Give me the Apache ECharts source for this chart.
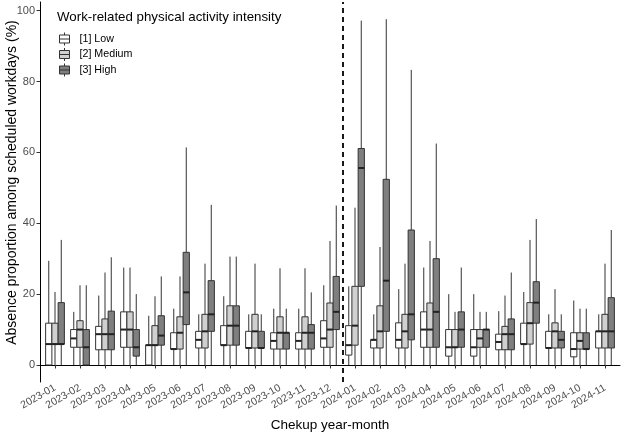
<!DOCTYPE html>
<html><head><meta charset="utf-8">
<script src="https://cdn.jsdelivr.net/npm/echarts@6/dist/echarts.min.js"></script>
<style>html,body{margin:0;padding:0;background:#fff}#c{width:622px;height:433px}</style>
</head><body><div id="c"></div>
<script>
// Categories (check-up year-month)
const categories = ['2023-01','2023-02','2023-03','2023-04','2023-05','2023-06','2023-07','2023-08','2023-09','2023-10','2023-11','2023-12',
  '2024-01','2024-02','2024-03','2024-04','2024-05','2024-06','2024-07','2024-08','2024-09','2024-10','2024-11'];
const groupNames = ['[1] Low', '[2] Medium', '[3] High'];
// Box statistics: [min, Q1, median, Q3, max] (%)
const lowStats = [
  [0,0,5.9,11.8,29.4],[0,5,7.5,10,15],[0,4.3,8.7,10.9,19.6],[0,5,10,15,27.5],[0,0,5.6,5.6,13.9],[0,4.5,4.5,9.1,15.9],
  [0,4.8,7.1,9.5,14.3],[0,5.6,5.6,11.1,19.4],[0,4.8,4.8,9.5,14.3],[0,4.5,6.8,9.1,15.9],[0,4.5,6.8,9.1,15.9],[0,5,7.5,12.5,22.5],
  [0,2.8,5.6,11.1,22.2],[0,4.8,7.1,7.1,14.3],[0,4.8,7.1,11.9,21.4],[0,5,10,15,27.5],[0,2.5,5,10,20],[0,2.5,5,10,20],
  [0,4.3,6.5,8.7,15.2],[0,5.9,5.9,11.8,20.6],[0,4.8,4.8,9.5,14.3],[0,2.3,4.5,9.1,18.2],[0,4.8,9.5,9.5,14.3]
];
const mediumStats = [
  [0,5.9,5.9,11.8,20.6],[0,5,10,12.5,22.5],[0,4.3,8.7,13,26.1],[0,5,10,15,27.5],[0,5.6,5.6,11.1,19.4],[0,4.5,9.1,13.6,25],
  [0,4.8,9.5,14.3,28.6],[0,5.6,11.1,16.7,30.6],[0,4.8,9.5,14.3,28.6],[0,4.5,9.1,13.6,27.3],[0,4.5,9.1,13.6,27.3],[0,5,10,17.5,35],
  [0,5.6,11.1,22.2,44.4],[0,4.8,9.5,16.7,33.3],[0,4.8,9.5,14.3,28.6],[0,5,10,17.5,35],[0,5,5,10,15],[0,5,7.5,10,15],
  [0,4.3,8.7,10.9,19.6],[0,5.9,11.8,17.6,35.3],[0,4.8,9.5,11.9,21.4],[0,4.5,6.8,9.1,15.9],[0,4.8,9.5,14.3,28.6]
];
const highStats = [
  [0,5.9,5.9,17.6,35.3],[0,0,5,10,22.5],[0,4.3,8.7,15.2,30.4],[0,2.5,5,10,20],[0,5.6,8.3,13.9,25],[0,11.4,20.5,31.8,61.4],
  [0,9.5,14.3,23.8,45.2],[0,5.6,11.1,16.7,30.6],[0,4.8,4.8,9.5,14.3],[0,4.5,9.1,9.1,15.9],[0,4.5,9.1,11.4,20.5],[0,10,15,25,45],
  [0,22.2,55.6,61.1,97.2],[0,9.5,23.8,52.4,97.6],[0,7.1,14.3,38.1,83.3],[0,5,15,30,62.5],[0,5,10,15,27.5],[0,5,10,10,15],
  [0,4.3,8.7,13,26.1],[0,11.8,17.6,23.5,41.2],[0,4.8,7.1,9.5,14.3],[0,4.5,4.5,9.1,15.9],[0,4.8,9.5,19,38.1]
];
const yTicks = [0, 20, 40, 60, 80, 100];
const splitCategory = '2024-01';

const fills = ['#FFFFFF', '#D0D0D0', '#7F7F7F'];
const offsets = [-0.25, 0, 0.25];
const dividerX = categories.indexOf(splitCategory) + 0.5; // between 2023-12 and 2024-01 (1-based positions)
const FONT = 'Liberation Sans, Arial, Helvetica, sans-serif';

function toData(stats) { return stats.map((s, i) => [i + 1].concat(s)); }

function boxRender(offset, fill) {
  return function (params, api) {
    const x = api.value(0);
    const cx = api.coord([x + offset, 0])[0];
    const w = api.size([0.25, 0])[0];
    const yMin = api.coord([x, api.value(1)])[1];
    const yQ1 = api.coord([x, api.value(2)])[1];
    const yMed = api.coord([x, api.value(3)])[1];
    const yQ3 = api.coord([x, api.value(4)])[1];
    const yMax = api.coord([x, api.value(5)])[1];
    return {
      type: 'group',
      children: [
        { type: 'line', shape: { x1: cx, y1: yMin, x2: cx, y2: yMax }, style: { stroke: '#333', lineWidth: 1 } },
        { type: 'rect', shape: { x: cx - w / 2, y: yQ3, width: w, height: yQ1 - yQ3 }, style: { fill: fill, stroke: '#333', lineWidth: 1 } },
        { type: 'line', shape: { x1: cx - w / 2, y1: yMed, x2: cx + w / 2, y2: yMed }, style: { stroke: '#222', lineWidth: 2 } }
      ]
    };
  };
}

const allStats = [lowStats, mediumStats, highStats];
const series = allStats.map((stats, k) => ({
  type: 'custom',
  name: groupNames[k],
  renderItem: boxRender(offsets[k], fills[k]),
  itemStyle: { color: fills[k], borderColor: '#333', borderWidth: 1 },
  encode: { x: 0, y: [1, 2, 3, 4, 5] },
  data: toData(stats),
  silent: true,
  z: 2
}));
series[0].markLine = {
  symbol: 'none', silent: true, label: { show: false },
  lineStyle: { type: [5, 4], color: '#000', width: 1.8 },
  data: [{ xAxis: dividerX }]
};

const chart = echarts.init(document.getElementById('c'), null, { renderer: 'canvas' });
chart.setOption({
  animation: false,
  backgroundColor: '#fff',
  title: {
    text: 'Work-related physical activity intensity',
    left: 57, top: 11, padding: 0,
    textStyle: { fontSize: 13.3, fontWeight: 'normal', color: '#000', fontFamily: FONT }
  },
  legend: {
    orient: 'vertical', left: 59, top: 32, padding: 0,
    itemWidth: 10, itemHeight: 13, itemGap: 1.5,
    selectedMode: false,
    icon: 'path://M5,0V2.5M0,2.5H10V10.5H0ZM0,6.5H10M5,10.5V13',
    textStyle: { fontSize: 10.7, color: '#000', fontFamily: FONT, padding: [0, 0, 0, 5] },
    data: groupNames.map((n, k) => ({ name: n, itemStyle: { color: fills[k], borderColor: '#333', borderWidth: 1 } }))
  },
  grid: { left: 40, right: 2, top: 2, bottom: 51, containLabel: false, outerBoundsMode: 'none' },
  xAxis: {
    type: 'value', min: 0.4, max: categories.length + 0.6,
    splitLine: { show: false },
    axisLine: { show: true, lineStyle: { color: '#000', width: 1 } },
    axisTick: { show: true, length: 3.5, lineStyle: { color: '#333' }, customValues: categories.map((c, i) => i + 1) },
    axisLabel: {
      customValues: categories.map((c, i) => i + 1),
      formatter: v => categories[Math.round(v) - 1] || '',
      rotate: 30, align: 'right', verticalAlign: 'middle',
      margin: 5, fontSize: 10.5, color: '#4D4D4D', fontFamily: FONT
    },
    name: 'Chekup year-month', nameLocation: 'middle', nameGap: 36,
    nameTextStyle: { fontSize: 13.5, color: '#000', fontFamily: FONT }
  },
  yAxis: {
    type: 'value', min: -4.8, max: 102.45,
    splitLine: { show: false },
    axisLine: { show: true, lineStyle: { color: '#000', width: 1 } },
    axisTick: { show: true, length: 3.5, lineStyle: { color: '#333' }, customValues: yTicks },
    axisLabel: { customValues: yTicks, margin: 5, fontSize: 11, color: '#4D4D4D', fontFamily: FONT }
  },
  graphic: [{
    type: 'text', x: 12, y: 182.5, rotation: Math.PI / 2, silent: true,
    style: { text: 'Absence proportion among scheduled workdays (%)', fontSize: 14, fill: '#000', fontFamily: FONT, align: 'center', verticalAlign: 'middle' }
  }],
  series: series
});
</script>
</body></html>
